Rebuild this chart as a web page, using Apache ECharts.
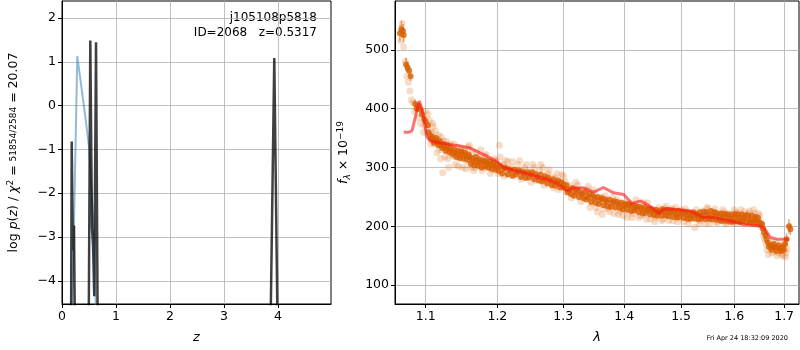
<!DOCTYPE html>
<html><head><meta charset="utf-8">
<script src="https://cdn.jsdelivr.net/npm/echarts@6/dist/echarts.min.js"></script>
<style>html,body{margin:0;padding:0;background:#fff}#c{width:800px;height:350px}</style>
</head><body><div id="c"></div>
<script>
// ---- left panel: log p(z) ----
const zTicks = [0, 1, 2, 3, 4];
const logpTicks = [-4, -3, -2, -1, 0, 1, 2];
const blackZ = [[0.0,-6],[0.165,-6],[0.18,-0.82],[0.2,-3.3],[0.222,-2.74],[0.245,-6],[0.49,-6],[0.524,1.49],[0.555,-2.8],[0.575,-3.2],[0.597,-4.35],[0.63,1.45],[0.665,-6],[3.85,-6],[3.93,1.09],[4.0,-6],[4.98,-6]];
const blueZ = [[0.17,-6],[0.283,1.13],[0.36,0.42],[0.426,-0.2],[0.506,-1.0],[0.561,-2.3],[0.598,-3.05],[0.64,-5.5]];

// ---- right panel: spectrum ----
const lamTicks = [1.1, 1.2, 1.3, 1.4, 1.5, 1.6, 1.7];
const fluxTicks = [100, 200, 300, 400, 500];
const model = [[1.071,360],[1.078,360],[1.082,363],[1.087,390],[1.0915,413],[1.096,395],[1.1013,353],[1.106,345],[1.128,340],[1.145,337],[1.161,333],[1.175,325],[1.185,319],[1.199,311],[1.209,300],[1.229,294],[1.249,288],[1.274,280],[1.29,273],[1.300,266],[1.306,260],[1.315,265],[1.333,265],[1.349,258],[1.365,266],[1.382,257],[1.399,254],[1.413,239],[1.428,243],[1.445,234],[1.460,222],[1.469,229],[1.481,230],[1.517,226],[1.542,215],[1.555,216],[1.593,209],[1.619,203],[1.652,200],[1.66,196],[1.672,181],[1.686,178],[1.71,178]];
// dark points with error: [lambda, flux, err]
const darkPts = [[1.066,528,14],[1.068,535,14],[1.070,532,12],[1.071,525,12],[1.074,475,12],[1.076,470,10],[1.078,465,8],[1.080,455,8],[1.086,408,8],[1.088,400,6],[1.090,405,6],[1.093,398,6],[1.095,390,5],[1.098,382,5],[1.100,378,5],[1.103,372,5],[1.107,350,4],[1.110,348,4],[1.113,345,4],[1.116,342,4],[1.12,338,4],[1.125,335,4],[1.13,332,4],[1.135,328,4],[1.14,325,4],[1.145,322,4],[1.15,324,4],[1.155,320,4],[1.16,318,4],[1.165,310,4],[1.17,312,4],[1.175,308,4],[1.18,310,4],[1.185,307,4],[1.19,305,4],[1.195,303,4],[1.2,300,4],[1.21,298,4],[1.22,295,4],[1.23,292,4],[1.24,290,4],[1.25,288,4],[1.26,284,4],[1.27,280,4],[1.28,278,4],[1.29,275,4],[1.30,272,4],[1.31,262,4],[1.32,258,4],[1.33,255,4],[1.34,250,4],[1.35,248,4],[1.36,245,4],[1.37,242,4],[1.38,240,4],[1.39,238,4],[1.40,236,4],[1.41,235,4],[1.42,232,4],[1.43,230,4],[1.44,228,4],[1.45,226,4],[1.46,224,4],[1.47,225,4],[1.48,224,4],[1.49,222,4],[1.50,222,4],[1.51,220,4],[1.52,219,4],[1.53,218,4],[1.54,218,4],[1.55,219,4],[1.56,218,4],[1.57,217,4],[1.58,216,4],[1.59,215,4],[1.60,214,4],[1.61,215,4],[1.62,214,4],[1.63,212,4],[1.64,210,4],[1.65,207,4],[1.655,204,4],[1.662,185,5],[1.667,172,5],[1.672,168,5],[1.677,165,5],[1.682,165,5],[1.687,163,5],[1.692,162,6],[1.697,165,6],[1.702,170,8],[1.705,178,10],[1.71,200,12],[1.713,195,10]];
const darkExtra = [[1.104,360],[1.106,355],[1.109,352],[1.111,342],[1.114,350],[1.117,338],[1.119,345],[1.122,333],[1.124,340],[1.127,328],[1.129,338],[1.132,326],[1.134,334],[1.137,322],[1.139,330],[1.142,318],[1.144,328],[1.147,316],[1.149,327],[1.152,315],[1.154,325],[1.157,313],[1.159,322],[1.162,306],[1.164,316],[1.167,304],[1.169,318],[1.172,303],[1.174,314],[1.177,300],[1.179,312],[1.182,302],[1.184,311],[1.187,300],[1.189,310],[1.192,298],[1.194,308],[1.197,296],[1.199,305],[1.202,294],[1.205,302],[1.207,290],[1.212,300],[1.215,288],[1.217,297],[1.222,286],[1.225,296],[1.227,288],[1.232,295],[1.235,284],[1.237,293],[1.242,282],[1.245,292],[1.247,283],[1.252,292],[1.255,280],[1.257,289],[1.262,278],[1.265,288],[1.267,276],[1.272,285],[1.275,273],[1.277,282],[1.282,270],[1.285,280],[1.287,269],[1.292,278],[1.295,266],[1.297,275],[1.302,265],[1.305,270],[1.307,258],[1.312,255],[1.315,265],[1.317,252],[1.322,262],[1.325,250],[1.327,258],[1.332,248],[1.335,258],[1.337,246],[1.342,255],[1.345,242],[1.347,252],[1.352,240],[1.355,250],[1.357,238],[1.362,248],[1.365,236],[1.367,246],[1.372,234],[1.375,245],[1.377,233],[1.382,243],[1.385,232],[1.387,242],[1.392,231],[1.395,240],[1.397,229],[1.402,238],[1.405,228],[1.407,237],[1.412,226],[1.415,236],[1.417,227],[1.422,234],[1.425,224],[1.427,233],[1.432,222],[1.435,232],[1.437,223],[1.442,230],[1.445,220],[1.447,229],[1.452,219],[1.455,228],[1.457,218],[1.462,227],[1.465,218],[1.467,229],[1.472,219],[1.475,228],[1.477,217],[1.482,227],[1.485,216],[1.487,226],[1.492,215],[1.495,226],[1.497,216],[1.502,225],[1.505,214],[1.507,224],[1.512,213],[1.515,223],[1.517,213],[1.522,224],[1.525,213],[1.527,222],[1.532,212],[1.535,224],[1.537,213],[1.542,225],[1.545,212],[1.547,224],[1.552,213],[1.555,226],[1.557,212],[1.562,224],[1.565,211],[1.567,222],[1.572,210],[1.575,222],[1.577,209],[1.582,221],[1.585,209],[1.587,220],[1.592,208],[1.595,220],[1.597,208],[1.602,221],[1.605,209],[1.607,220],[1.612,208],[1.615,220],[1.617,209],[1.622,219],[1.625,207],[1.627,219],[1.632,207],[1.635,218],[1.637,206],[1.642,216],[1.645,205],[1.647,214],[1.652,203],[1.657,196],[1.659,190],[1.664,178],[1.669,165],[1.674,160],[1.679,170],[1.684,158],[1.689,168],[1.694,158],[1.699,160]];
const lightPts = [[1.067,515],[1.069,545],[1.071,505],[1.073,480],[1.075,455],[1.077,445],[1.079,430],[1.081,415],[1.083,410],[1.085,395],[1.09,385],[1.093,375],[1.097,360],[1.1,395],[1.102,365],[1.105,380],[1.108,360],[1.11,370],[1.112,340],[1.115,325],[1.117,355],[1.12,315],[1.123,291],[1.124,345],[1.127,330],[1.13,315],[1.133,340],[1.136,320],[1.14,305],[1.143,335],[1.146,315],[1.15,300],[1.153,330],[1.156,310],[1.16,338],[1.163,300],[1.166,295],[1.17,325],[1.174,318],[1.178,295],[1.182,320],[1.186,300],[1.19,290],[1.195,315],[1.203,338],[1.206,295],[1.208,305],[1.21,285],[1.215,310],[1.22,300],[1.225,285],[1.23,305],[1.235,280],[1.24,300],[1.245,295],[1.25,275],[1.255,300],[1.26,285],[1.265,305],[1.27,270],[1.275,290],[1.28,285],[1.285,265],[1.29,290],[1.295,272],[1.3,285],[1.305,258],[1.31,270],[1.315,255],[1.32,275],[1.325,250],[1.33,262],[1.335,245],[1.34,268],[1.345,240],[1.35,255],[1.355,225],[1.36,250],[1.365,230],[1.37,245],[1.375,225],[1.38,250],[1.385,235],[1.39,220],[1.395,240],[1.4,228],[1.405,215],[1.41,238],[1.415,222],[1.42,245],[1.425,215],[1.43,232],[1.435,220],[1.44,240],[1.445,212],[1.45,228],[1.455,215],[1.46,232],[1.465,210],[1.47,230],[1.475,218],[1.48,226],[1.485,210],[1.49,232],[1.495,215],[1.5,228],[1.505,208],[1.51,225],[1.515,212],[1.52,222],[1.525,198],[1.53,220],[1.535,210],[1.54,226],[1.545,205],[1.55,230],[1.555,212],[1.56,225],[1.565,208],[1.57,222],[1.575,212],[1.58,224],[1.585,206],[1.59,220],[1.595,210],[1.6,228],[1.605,205],[1.61,222],[1.615,210],[1.62,225],[1.625,208],[1.63,226],[1.635,212],[1.64,222],[1.645,215],[1.65,218],[1.655,198],[1.66,178],[1.665,160],[1.67,175],[1.675,155],[1.68,168],[1.685,150],[1.69,158],[1.695,152],[1.7,170],[1.703,148],[1.706,162]];
const lightExtra = [[1.098,372],[1.103,390],[1.107,340],[1.109,375],[1.113,362],[1.116,348],[1.119,330],[1.121,352],[1.126,318],[1.128,345],[1.131,300],[1.134,325],[1.138,340],[1.141,318],[1.144,302],[1.148,332],[1.151,318],[1.155,298],[1.158,335],[1.161,312],[1.164,328],[1.168,300],[1.171,310],[1.176,330],[1.18,300],[1.184,322],[1.188,312],[1.192,296],[1.198,312],[1.201,290],[1.204,318],[1.212,312],[1.217,290],[1.222,310],[1.228,295],[1.233,312],[1.238,290],[1.243,305],[1.248,285],[1.253,305],[1.258,278],[1.263,295],[1.268,300],[1.273,278],[1.278,296],[1.283,275],[1.288,282],[1.293,262],[1.298,288],[1.303,276],[1.308,265],[1.313,248],[1.318,262],[1.323,270],[1.328,242],[1.333,255],[1.338,262],[1.343,232],[1.348,262],[1.353,232],[1.358,242],[1.363,220],[1.368,252],[1.373,230],[1.378,240],[1.383,222],[1.388,245],[1.393,226],[1.398,218],[1.403,240],[1.408,225],[1.413,215],[1.418,232],[1.423,228],[1.428,218],[1.433,240],[1.438,212],[1.443,226],[1.448,222],[1.453,208],[1.458,225],[1.463,222],[1.468,212],[1.473,234],[1.478,210],[1.483,230],[1.488,218],[1.493,208],[1.498,225],[1.503,218],[1.508,230],[1.513,205],[1.518,218],[1.523,215],[1.528,228],[1.533,205],[1.538,218],[1.543,215],[1.548,232],[1.553,205],[1.558,220],[1.563,230],[1.568,206],[1.573,218],[1.578,228],[1.583,204],[1.588,222],[1.593,214],[1.598,205],[1.603,224],[1.608,212],[1.613,228],[1.618,204],[1.623,216],[1.628,222],[1.633,205],[1.638,228],[1.643,210],[1.648,222],[1.653,205],[1.658,185],[1.663,170],[1.668,152],[1.673,165],[1.678,158],[1.683,172],[1.688,155],[1.693,165],[1.698,150],[1.701,160],[1.704,155]];

const FONT = 'DejaVu Sans';
const minus = v => String(v).replace('-', '\u2212');
const chart = echarts.init(document.getElementById('c'), null, {renderer: 'canvas'});
const axisCommon = {
  axisLine: {show: true, onZero: false, lineStyle: {color: '#000', width: 1}},
  axisTick: {show: true, inside: false, length: 4, lineStyle: {color: '#000', width: 1}},
  splitLine: {show: true, lineStyle: {color: '#b0b0b0', width: 0.8}},
  axisLabel: {color: '#000', fontFamily: FONT, fontSize: 12.5, margin: 6}
};
function errRender(params, api) {
  const x = api.value(0), y = api.value(1), e = api.value(2);
  const p1 = api.coord([x, y - e]), p2 = api.coord([x, y + e]);
  return {type: 'line', shape: {x1: p1[0], y1: p1[1], x2: p2[0], y2: p2[1]},
    style: {stroke: 'rgba(217,96,0,0.55)', lineWidth: 1.5}};
}
const option = {
  animation: false,
  backgroundColor: '#fff',
  grid: [
    {left: 62, top: 1, width: 269, height: 303, show: true, borderColor: '#000', borderWidth: 1, backgroundColor: 'transparent'},
    {left: 395, top: 1, width: 404, height: 303, show: true, borderColor: '#000', borderWidth: 1, backgroundColor: 'transparent'}
  ],
  xAxis: [
    Object.assign({}, axisCommon, {type: 'value', gridIndex: 0, min: 0, max: 4.98,
      axisLabel: Object.assign({}, axisCommon.axisLabel, {customValues: zTicks}),
      axisTick: Object.assign({}, axisCommon.axisTick, {customValues: zTicks}),
      name: 'z', nameLocation: 'middle', nameGap: 27,
      nameTextStyle: {fontFamily: FONT, fontSize: 13, fontStyle: 'italic', color: '#000'}}),
    Object.assign({}, axisCommon, {type: 'log', logBase: 10, gridIndex: 1, min: 1.0597, max: 1.731,
      axisLabel: Object.assign({}, axisCommon.axisLabel, {customValues: lamTicks, formatter: v => Number(v).toFixed(1)}),
      axisTick: Object.assign({}, axisCommon.axisTick, {customValues: lamTicks}),
      minorTick: {show: false}, minorSplitLine: {show: false},
      name: 'λ', nameLocation: 'middle', nameGap: 27,
      nameTextStyle: {fontFamily: FONT, fontSize: 13, fontStyle: 'italic', color: '#000'}})
  ],
  yAxis: [
    Object.assign({}, axisCommon, {type: 'value', gridIndex: 0, min: -4.53, max: 2.39,
      axisLabel: Object.assign({}, axisCommon.axisLabel, {customValues: logpTicks, formatter: minus}),
      axisTick: Object.assign({}, axisCommon.axisTick, {customValues: logpTicks}),
      name: '{n|log }{i|p}{n|(}{i|z}{n|) / }{i|χ}{sup|2}{n| = }{fr|51854/2584}{n| = 20.07}',
      nameLocation: 'middle', nameGap: 40, nameRotate: 90,
      nameTextStyle: {fontFamily: FONT, fontSize: 12.5, color: '#000', lineHeight: 16,
        rich: {n: {fontFamily: FONT, fontSize: 12.5, color: '#000'},
               i: {fontFamily: FONT, fontSize: 12.5, fontStyle: 'italic', color: '#000'},
               sup: {fontFamily: FONT, fontSize: 9, color: '#000', verticalAlign: 'top'},
               fr: {fontFamily: FONT, fontSize: 9, color: '#000'}}}}),
    Object.assign({}, axisCommon, {type: 'value', gridIndex: 1, min: 68, max: 583,
      axisLabel: Object.assign({}, axisCommon.axisLabel, {customValues: fluxTicks}),
      axisTick: Object.assign({}, axisCommon.axisTick, {customValues: fluxTicks}),
      name: '{i|f}{sub|λ}{n| × 10}{sup|−19}',
      nameLocation: 'middle', nameGap: 43, nameRotate: 90,
      nameTextStyle: {fontFamily: FONT, fontSize: 12.5, color: '#000', lineHeight: 16,
        rich: {n: {fontFamily: FONT, fontSize: 12.5, color: '#000'},
               i: {fontFamily: FONT, fontSize: 12.5, fontStyle: 'italic', color: '#000'},
               sub: {fontFamily: FONT, fontSize: 9, fontStyle: 'italic', color: '#000', verticalAlign: 'bottom'},
               sup: {fontFamily: FONT, fontSize: 9, color: '#000', verticalAlign: 'top'}}}})
  ],
  series: [
    {type: 'line', xAxisIndex: 0, yAxisIndex: 0, data: blueZ, showSymbol: false, symbol: 'none',
      lineStyle: {color: 'rgba(31,119,180,0.5)', width: 2}, clip: true, z: 3},
    {type: 'line', xAxisIndex: 0, yAxisIndex: 0, data: blackZ, showSymbol: false, symbol: 'none',
      lineStyle: {color: 'rgba(0,0,0,0.75)', width: 2.5}, clip: true, z: 4},
    {type: 'scatter', xAxisIndex: 1, yAxisIndex: 1, data: lightPts.concat(lightExtra), symbolSize: 7,
      itemStyle: {color: 'rgba(222,110,30,0.3)'}, clip: true, z: 2},
    {type: 'custom', xAxisIndex: 1, yAxisIndex: 1, data: darkPts, renderItem: errRender, clip: true, z: 3},
    {type: 'scatter', xAxisIndex: 1, yAxisIndex: 1, data: darkPts.map(p => [p[0], p[1]]).concat(darkExtra), symbolSize: 6,
      itemStyle: {color: '#d95f02'}, clip: true, z: 4},
    {type: 'line', xAxisIndex: 1, yAxisIndex: 1, data: model, showSymbol: false, symbol: 'none',
      lineStyle: {color: 'rgba(255,20,20,0.6)', width: 3}, clip: true, z: 5}
  ],
  graphic: [
    {type: 'text', right: 800 - 317, top: 12, style: {text: 'j105108p5818', font: '12px "DejaVu Sans"', fill: '#000', textAlign: 'right'}},
    {type: 'text', right: 800 - 317, top: 27, style: {text: 'ID=2068   z=0.5317', font: '12px "DejaVu Sans"', fill: '#000', textAlign: 'right'}},
    {type: 'text', right: 800 - 788, top: 335, style: {text: 'Fri Apr 24 18:32:09 2020', font: '6.5px "DejaVu Sans"', fill: '#000', textAlign: 'right'}}
  ]
};
chart.setOption(option);
</script></body></html>
